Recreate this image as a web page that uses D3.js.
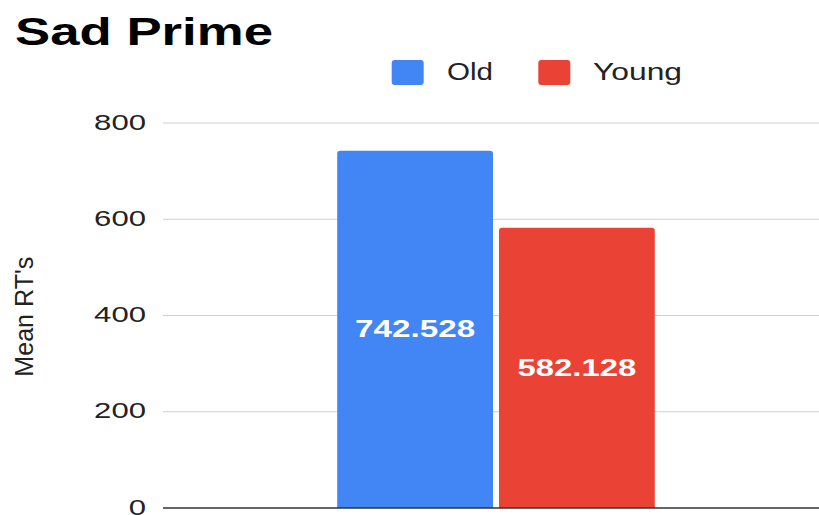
<!DOCTYPE html>
<html>
<head>
<meta charset="utf-8">
<script src="https://cdn.jsdelivr.net/npm/d3@7/dist/d3.min.js"></script>
<style>
  html, body { margin: 0; padding: 0; background: #fff; }
  svg { display: block; font-family: "Liberation Sans", Arial, sans-serif; }
</style>
</head>
<body>
<svg id="chart" width="819" height="515"></svg>
<script>
// Chart data
const chartTitle = "Sad Prime";
const yAxisTitle = "Mean RT's";
const groups = [""];
const seriesNames = ["Old", "Young"];
const seriesValues = [742.528, 582.128];
const seriesColors = ["#4285F4", "#EA4335"];
const yTicks = [0, 200, 400, 600, 800];

const svg = d3.select("#chart");
const plot = { left: 163, right: 819, top: 123, bottom: 508 };

const y = d3.scaleLinear().domain([0, 800]).range([plot.bottom, plot.top]);
const x0 = d3.scaleBand().domain(groups).range([173, 819]).paddingInner(0).paddingOuter(0.517);
const x1 = d3.scaleBand().domain(seriesNames).range([0, x0.bandwidth()]).paddingInner(0.037);
const color = d3.scaleOrdinal().domain(seriesNames).range(seriesColors);

// Stretch a text element to a given advance width
function fitWidth(sel, w) {
  sel.attr("textLength", w).attr("lengthAdjust", "spacingAndGlyphs");
}

// Gridlines
svg.append("g")
  .selectAll("line")
  .data(yTicks.filter(d => d !== 0))
  .join("line")
  .attr("x1", plot.left).attr("x2", plot.right)
  .attr("y1", d => y(d)).attr("y2", d => y(d))
  .attr("stroke", "#cfcfcf").attr("stroke-width", 1.2);

// Y axis tick labels
const yAxis = d3.axisLeft(y).tickValues(yTicks).tickSize(0).tickPadding(0);
const gy = svg.append("g").attr("transform", `translate(146,0)`).call(yAxis);
gy.select(".domain").remove();
gy.selectAll(".tick text")
  .attr("x", 0).attr("dy", null).attr("y", 6)
  .attr("font-size", 22)
  .attr("font-family", "Liberation Sans, Arial, sans-serif")
  .attr("fill", "#222")
  .each(function (d) { fitWidth(d3.select(this), String(d).length * 17.3); });

// Bars with rounded top corners
function topRounded(x, yTop, w, h, r) {
  r = Math.min(r, w / 2, h);
  return `M${x},${yTop + h}V${yTop + r}Q${x},${yTop} ${x + r},${yTop}` +
         `H${x + w - r}Q${x + w},${yTop} ${x + w},${yTop + r}V${yTop + h}Z`;
}

const barData = seriesNames.map((s, i) => ({ group: groups[0], series: s, value: seriesValues[i] }));

const gBars = svg.append("g");
gBars.selectAll("path")
  .data(barData)
  .join("path")
  .attr("d", d => {
    const bx = x0(d.group) + x1(d.series);
    return topRounded(bx, y(d.value), x1.bandwidth(), y(0) - y(d.value), 3);
  })
  .attr("fill", d => color(d.series));

// Value labels inside bars
const labelWidths = { "Old": 120, "Young": 118.7 };
gBars.selectAll("text")
  .data(barData)
  .join("text")
  .attr("x", d => x0(d.group) + x1(d.series) + x1.bandwidth() / 2)
  .attr("y", d => (y(d.value) + y(0)) / 2 + 8)
  .attr("text-anchor", "middle")
  .attr("font-size", 23)
  .attr("font-weight", "bold")
  .attr("fill", "#fff")
  .text(d => d3.format(".3f")(d.value))
  .each(function (d) { fitWidth(d3.select(this), labelWidths[d.series]); });

// Baseline
svg.append("line")
  .attr("x1", plot.left).attr("x2", plot.right)
  .attr("y1", y(0)).attr("y2", y(0))
  .attr("stroke", "#333").attr("stroke-width", 1.5);

// Title
svg.append("text")
  .attr("x", 15).attr("y", 45)
  .attr("font-size", 39).attr("font-weight", "bold")
  .attr("fill", "#000")
  .text(chartTitle)
  .call(fitWidth, 258);

// Y axis title
svg.append("text")
  .attr("transform", `translate(33,316.7) rotate(-90)`)
  .attr("text-anchor", "middle")
  .attr("font-size", 25)
  .attr("fill", "#222")
  .text(yAxisTitle)
  .call(fitWidth, 120);

// Legend
const legendItems = [
  { name: seriesNames[0], sx: 391.7, tx: 447, tw: 46 },
  { name: seriesNames[1], sx: 538.3, tx: 593, tw: 89 }
];
const gLeg = svg.append("g");
gLeg.selectAll("rect")
  .data(legendItems)
  .join("rect")
  .attr("x", d => d.sx).attr("y", 60)
  .attr("width", 32).attr("height", 25)
  .attr("rx", 3)
  .attr("fill", d => color(d.name));
gLeg.selectAll("text")
  .data(legendItems)
  .join("text")
  .attr("x", d => d.tx).attr("y", 80)
  .attr("font-size", 23)
  .attr("fill", "#222")
  .text(d => d.name)
  .each(function (d) { fitWidth(d3.select(this), d.tw); });
</script>
</body>
</html>
